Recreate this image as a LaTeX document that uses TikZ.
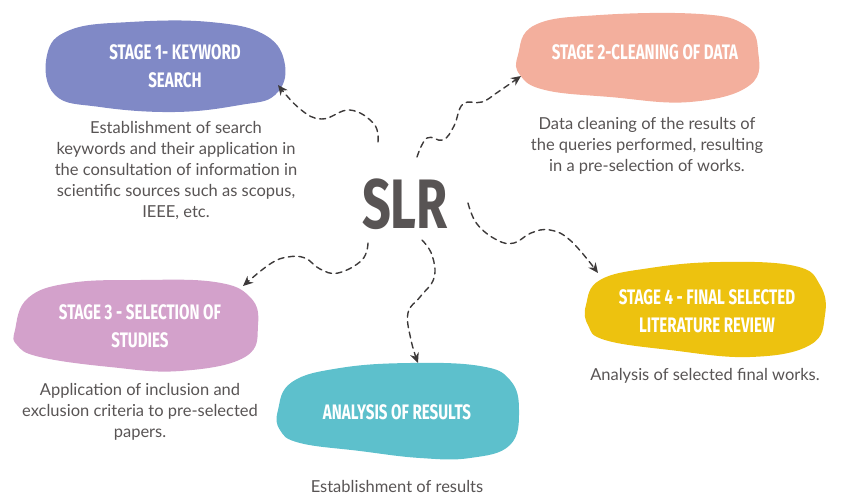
\documentclass[tikz,border=0pt]{standalone}
\usepackage{fontspec}
\setmainfont{Lato}
\newfontfamily\titlefont[FakeStretch=0.72]{Fira Sans}
\usetikzlibrary{arrows.meta}
\definecolor{cblue}{RGB}{128,137,198}
\definecolor{csalmon}{RGB}{243,175,157}
\definecolor{cpink}{RGB}{211,161,203}
\definecolor{cyellow}{RGB}{237,194,15}
\definecolor{cteal}{RGB}{93,192,204}
\definecolor{ctext}{RGB}{88,84,84}
\definecolor{carrow}{RGB}{61,58,58}
\tikzset{
  blob/.style={draw=none},
  title/.style={text=white,font=\titlefont\bfseries\fontsize{21}{28}\selectfont,align=center,inner sep=0pt},
  desc/.style={text=ctext,font=\fontsize{16.5}{21}\selectfont,align=center,inner sep=0pt},
  conn/.style={draw=carrow,line width=1.4pt,dash pattern=on 6pt off 4.5pt,-{Stealth[length=10pt,width=9pt]},line cap=round},
}
\begin{document}
\begin{tikzpicture}[x=1pt,y=-1pt]
\useasboundingbox (0,0) rectangle (857,501);
% blobs
\fill[cblue] plot[smooth cycle,tension=0.7] coordinates {(47,55) (70,30) (130,22) (210,22) (265,35) (285,65) (275,95) (240,105) (175,112) (100,107) (55,95)};
\fill[csalmon] plot[smooth cycle,tension=0.7] coordinates {(518,55) (535,25) (600,15) (700,14) (745,25) (758,50) (750,85) (690,102) (610,97) (545,90) (520,75)};
\fill[cpink] plot[smooth cycle,tension=0.7] coordinates {(15,330) (28,298) (70,283) (140,280) (215,282) (250,297) (258,325) (245,357) (180,371) (110,367) (40,357) (17,345)};
\fill[cyellow] plot[smooth cycle,tension=0.7] coordinates {(586,305) (600,280) (650,268) (720,262) (795,266) (820,285) (825,315) (810,345) (750,357) (670,350) (605,340) (588,325)};
\fill[cteal] plot[smooth cycle,tension=0.7] coordinates {(278,410) (292,382) (340,368) (410,363) (480,366) (510,380) (519,410) (510,445) (470,458) (420,458) (360,451) (300,443) (280,430)};
% titles
\node[title] (t1) at (175,66) {STAGE 1- KEYWORD\\SEARCH};
\node[title] (t2) at (645,52) {STAGE 2-CLEANING OF DATA};
\node[title] (t3) at (140,326) {STAGE 3 - SELECTION OF\\STUDIES};
\node[title] (t4) at (707,311) {STAGE 4 - FINAL SELECTED\\LITERATURE REVIEW};
\node[title] (t5) at (397,412) {ANALYSIS OF RESULTS};
% center
\node[text=ctext,font=\titlefont\bfseries\fontsize{70}{70}\selectfont,inner sep=0pt] (slr) at (405,204) {SLR};
% descriptions
\node[desc] (d1) at (176,171) {Establishment of search\\keywords and their application in\\the consultation of information in\\scientific sources such as scopus,\\IEEE, etc.};
\node[desc] (d2) at (647,146) {Data cleaning of the results of\\the queries performed, resulting\\in a pre-selection of works.};
\node[desc] (d3) at (140,412) {Application of inclusion and\\exclusion criteria to pre-selected\\papers.};
\node[desc] (d4) at (705,376) {Analysis of selected final works.};
\node[desc] (d5) at (397,486) {Establishment of results};
% connectors
\coordinate (s1) at (378,142); \coordinate (e1) at (278,85);
\coordinate (s2) at (417,157); \coordinate (e2) at (521,76);
\coordinate (s3) at (368,243); \coordinate (e3) at (243,286);
\coordinate (s4) at (422,240); \coordinate (e4) at (418,363);
\coordinate (s5) at (468,203); \coordinate (e5) at (598,273);
\draw[conn] plot[smooth,tension=0.7] coordinates {(s1) (374,124) (350,110) (322,119) (300,109) (e1)};
\draw[conn] plot[smooth,tension=0.7] coordinates {(s2) (427,138) (443,140) (454,126) (463,104) (482,102) (498,92) (e2)};
\draw[conn] plot[smooth,tension=0.7] coordinates {(s3) (362,260) (338,273) (320,269) (305,258) (288,257) (270,264) (e3)};
\draw[conn] plot[smooth,tension=0.7] coordinates {(s4) (432,255) (434,278) (420,297) (408,313) (411,340) (e4)};
\draw[conn] plot[smooth,tension=0.7] coordinates {(s5) (477,224) (497,240) (514,243) (531,233) (550,230) (571,241) (e5)};
\end{tikzpicture}
\end{document}
